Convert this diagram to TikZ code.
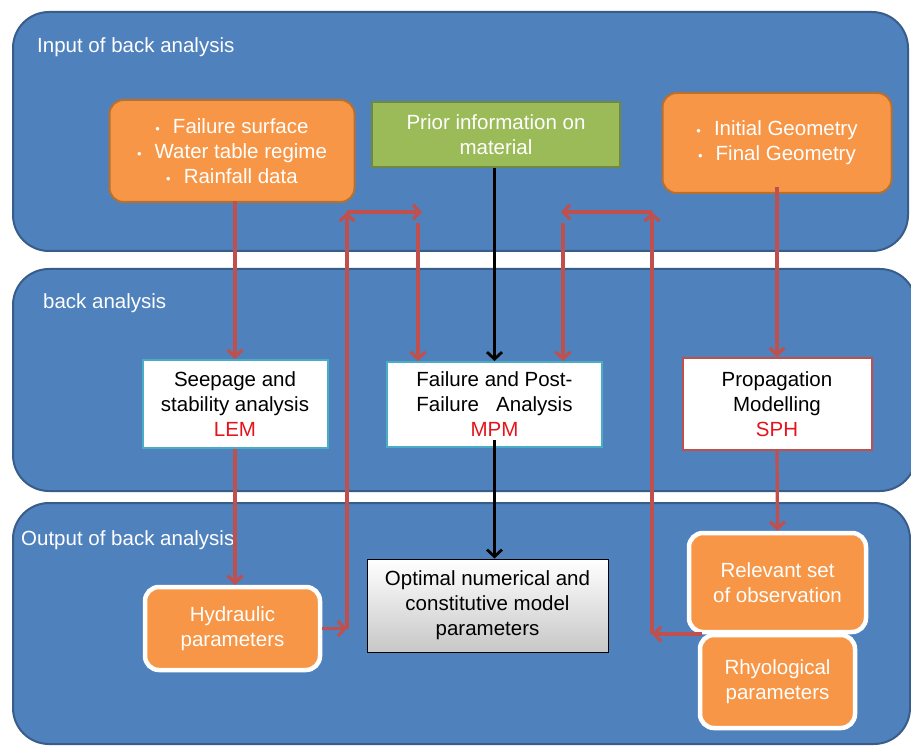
\documentclass[tikz,border=0pt]{standalone}
\usepackage{fontspec}
\setmainfont{Liberation Sans}
\usetikzlibrary{arrows.meta, positioning}
\definecolor{panelBlue}{HTML}{4F81BD}
\definecolor{panelEdge}{HTML}{385D8A}
\definecolor{boxOrange}{HTML}{F79646}
\definecolor{edgeOrange}{HTML}{B9702F}
\definecolor{boxGreen}{HTML}{9BBB59}
\definecolor{edgeGreen}{HTML}{71893F}
\definecolor{linkRed}{HTML}{C0504D}
\definecolor{edgeTeal}{HTML}{4BACC6}
\definecolor{codeRed}{HTML}{E3141B}
\newcommand{\bul}{{\fontsize{13}{13}\selectfont\textbullet}\hspace{13pt}}

\begin{document}
\begin{tikzpicture}[x=1pt, y=-1pt, font=\fontsize{20.5}{25}\selectfont,
  panel/.style={fill=panelBlue, draw=panelEdge, line width=2pt, rounded corners=36pt},
  paneltxt/.style={anchor=west, text=white, inner sep=0pt},
  inbox/.style={rounded corners=14pt, fill=boxOrange, draw=edgeOrange, line width=2pt, text=white, align=center, inner sep=0pt},
  outbox/.style={rounded corners=14pt, fill=boxOrange, draw=white, line width=4.5pt, text=white, align=center, inner sep=0pt},
  method/.style={fill=white, line width=2pt, align=center, inner sep=0pt},
  redarrow/.style={draw=linkRed, line width=3.2pt, -{Straight Barb[length=7pt, width=15pt]}},
  blackarrow/.style={draw=black, line width=2.8pt, -{Straight Barb[length=7pt, width=15pt]}}]
  \useasboundingbox (0,0) rectangle (911,746);
  \clip (0,0) rectangle (911,746);
  % three stages
  \draw[panel] (13,12) rectangle (908,251);
  \draw[panel] (13,269) rectangle (916,491);
  \draw[panel] (13,503) rectangle (910,744);
  \node[paneltxt] (inlbl) at (37,47) {Input of back analysis};
  \node[paneltxt] (balbl) at (43,303) {back analysis};
  \node[paneltxt] (outlbl) at (21,540) {Output of back analysis};
  % inputs
  \node[inbox, minimum width=245, minimum height=102] (fail) at (232,151)
    {\bul Failure surface\\ \bul Water table regime\\ \bul Rainfall data};
  \node[fill=boxGreen, draw=edgeGreen, line width=2pt, text=white, align=center, inner sep=0pt,
    minimum width=248, minimum height=65] (prior) at (496,134.5) {Prior information on\\ material};
  \node[inbox, minimum width=229, minimum height=100] (geom) at (777,143)
    {\bul Initial Geometry\\ \bul Final Geometry};
  % analyses
  \node[method, draw=edgeTeal, minimum width=185, minimum height=88] (seep) at (235,404)
    {Seepage and\\ stability analysis\\ \textcolor{codeRed}{LEM}};
  \node[method, draw=edgeTeal, minimum width=215, minimum height=85] (mpm) at (494.5,404.5)
    {Failure and Post-\\ Failure\ \ \ Analysis\\ \textcolor{codeRed}{MPM}};
  \node[method, draw=linkRed, minimum width=189, minimum height=92] (sph) at (777,404)
    {Propagation\\ Modelling\\ \textcolor{codeRed}{SPH}};
  % outputs
  \node[outbox, minimum width=175, minimum height=83] (hydr) at (232.5,628.5) {Hydraulic\\ parameters};
  \node[draw=black, line width=1pt, top color=white, bottom color=black!22, align=center, inner sep=0pt,
    minimum width=241, minimum height=93] (opt) at (487.5,605.5)
    {Optimal numerical and\\ constitutive model\\ parameters};
  \node[outbox, minimum width=155, minimum height=93] (rheo) at (777.5,681.5) {Rhyological\\ parameters};
  \node[outbox, minimum width=177, minimum height=99] (obs) at (777.5,582.5) {Relevant set\\ of observation};
  % straight links
  \draw[redarrow] ([yshift=2pt]fail.south -| seep.north) -- (seep.north);
  \draw[redarrow] (seep.south) -- (seep.south |- hydr.north);
  \draw[blackarrow] (prior.south -| mpm.north) -- (mpm.north);
  \draw[blackarrow] ([yshift=8pt]mpm.south) -- (mpm.south |- opt.north);
  \draw[redarrow] ([yshift=7pt]geom.south) -- (sph.north);
  \draw[redarrow] (sph.south) -- (obs.north);
  % feedback loop, left
  \coordinate (lbend) at (347,212);
  \coordinate (ltip) at (422,212);
  \coordinate (lin) at (418,223);
  \draw[redarrow] (hydr.east) -- (hydr.east -| lbend);
  \draw[redarrow] (hydr.east -| lbend) -- (lbend);
  \draw[redarrow] (lbend) -- (ltip);
  \draw[redarrow] (lin) -- (lin |- mpm.north);
  % feedback loop, right
  \coordinate (rbend) at (652,212);
  \coordinate (rtip) at (561,212);
  \coordinate (rin) at (563,223);
  \coordinate (rstart) at (702,634);
  \draw[redarrow] (rstart) -- (rstart -| rbend);
  \draw[redarrow] (rstart -| rbend) -- (rbend);
  \draw[redarrow] (rbend) -- (rtip);
  \draw[redarrow] (rin) -- (rin |- mpm.north);
\end{tikzpicture}
\end{document}
